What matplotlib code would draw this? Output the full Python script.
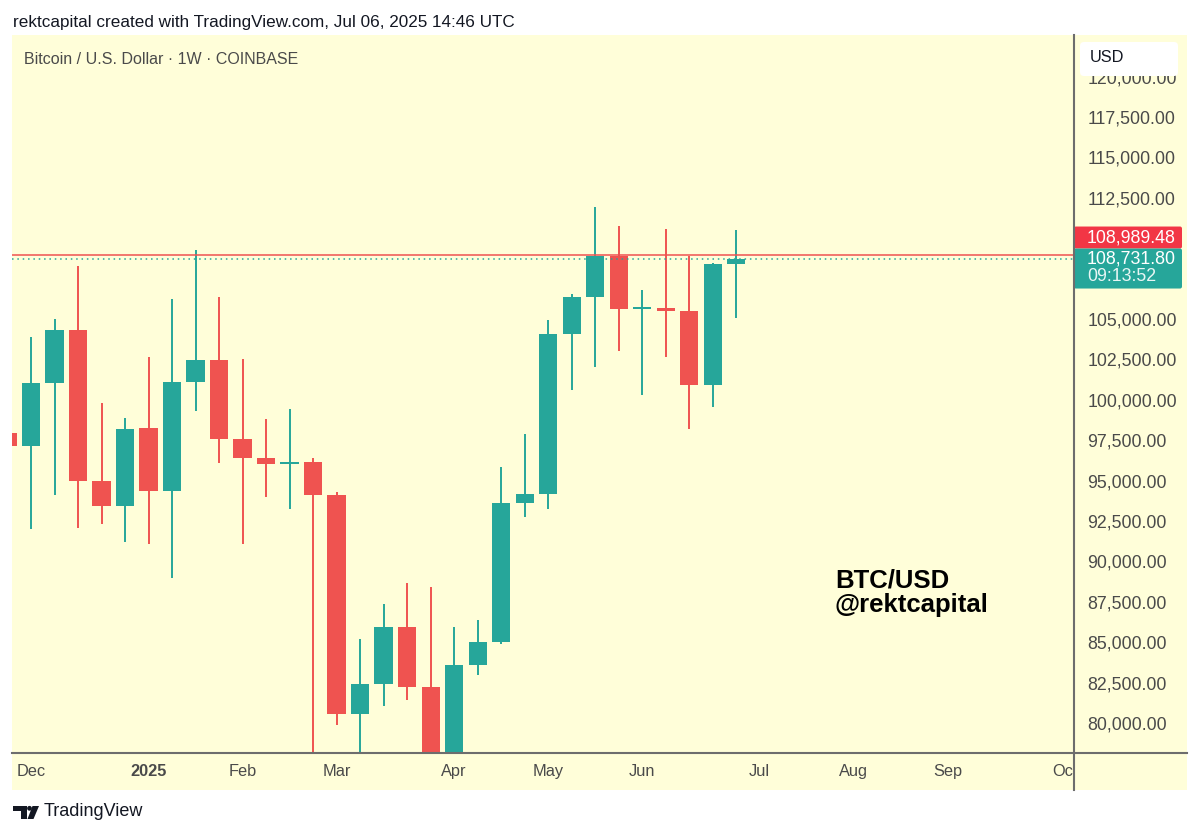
import matplotlib.pyplot as plt
import matplotlib.transforms as mtransforms
import numpy as np
from matplotlib.lines import Line2D
from matplotlib.patches import Circle, FancyBboxPatch, Polygon, Rectangle
from matplotlib.ticker import StrMethodFormatter

plt.rcParams["font.family"] = ["Liberation Sans", "DejaVu Sans"]

# weekly BTC/USD candles (Coinbase), week start dates
weeks = np.array([
    "2024-11-25", "2024-12-02", "2024-12-09", "2024-12-16", "2024-12-23", "2024-12-30",
    "2025-01-06", "2025-01-13", "2025-01-20", "2025-01-27", "2025-02-03", "2025-02-10",
    "2025-02-17", "2025-02-24", "2025-03-03", "2025-03-10", "2025-03-17", "2025-03-24",
    "2025-03-31", "2025-04-07", "2025-04-14", "2025-04-21", "2025-04-28", "2025-05-05",
    "2025-05-12", "2025-05-19", "2025-05-26", "2025-06-02", "2025-06-09", "2025-06-16",
    "2025-06-23", "2025-06-30",
], dtype="datetime64[D]")
opens = np.array([
    97950, 97150, 101060, 104340, 94990, 93430,
    98250, 94380, 101100, 102460, 97560, 96380,
    96010, 96130, 94130, 80570, 82410, 85970,
    82250, 78150, 83590, 85040, 93630, 94170,
    104050, 106360, 108920, 105640, 105660, 105500,
    100920, 108380,
])
highs = np.array([
    98700, 103900, 104980, 108300, 99780, 98860,
    102630, 106220, 109270, 106380, 102530, 98810,
    99410, 96420, 94300, 85200, 87360, 88670,
    88420, 85970, 86370, 95860, 97870, 104920,
    106550, 111950, 110760, 106800, 110570, 108920,
    108450, 110510,
])
lows = np.array([
    90800, 92000, 94100, 92040, 92290, 91180,
    91080, 88970, 99330, 96070, 91080, 93970,
    93220, 78200, 79880, 76600, 81050, 81420,
    74500, 74500, 82970, 84900, 92720, 93260,
    100610, 102040, 103020, 100300, 102670, 98180,
    99570, 105040,
])
closes = np.array([
    97150, 101060, 104340, 94990, 93430, 98210,
    94380, 101100, 102460, 97560, 96380, 96010,
    96100, 94130, 80570, 82410, 85970, 82250,
    78150, 83590, 85040, 93630, 94150, 104050,
    106380, 108920, 105600, 105700, 105520, 100920,
    108380, 108731.80,
])

level_price = 108989.48
last_price = 108731.80
countdown = "09:13:52"

price_ticks = np.arange(80000, 120001, 2500)
month_dates = np.array([
    "2024-12-02", "2025-01-06", "2025-02-03", "2025-03-03", "2025-04-07", "2025-05-05",
    "2025-06-02", "2025-07-07", "2025-08-04", "2025-09-01", "2025-10-06",
], dtype="datetime64[D]")
month_labels = ["Dec", "2025", "Feb", "Mar", "Apr", "May", "Jun", "Jul", "Aug", "Sep", "Oct"]

GREEN = "#26a69a"
RED = "#ef5350"
BG = "#fffed9"
TXT = "#4a4a4a"
SEP = "#6d6d6d"

W, H = 1200, 836
fig = plt.figure(figsize=(W / 100, H / 100), dpi=100, facecolor="white")
# pixel coordinates, origin top-left
pix = mtransforms.Affine2D().scale(1 / W, -1 / H).translate(0, 1) + fig.transFigure

# chart panel
fig.add_artist(Rectangle((12, 35), 1175, 755, transform=pix, fc=BG, ec="none", zorder=-5))

L, R, T, B = 12, 1074, 35, 753
ymin, ymax = 78144, 122574
xmin, xmax = 0.19, 45.38


def py(p):
    return B - (p - ymin) / (ymax - ymin) * (B - T)


ax = fig.add_axes([L / W, 1 - B / H, (R - L) / W, (B - T) / H])
ax.set_facecolor("none")
for s in ax.spines.values():
    s.set_visible(False)

x = (weeks - weeks[0]).astype(int) / 7
up = closes >= opens
colors = np.where(up, GREEN, RED)
ax.vlines(x, lows, highs, colors=colors, lw=1.4, zorder=2)
body_bottom = np.minimum(opens, closes)
body_h = np.maximum(np.abs(closes - opens), 120)
ax.bar(x, body_h, width=0.77, bottom=body_bottom, color=colors, zorder=3)

ax.axhline(level_price, color=RED, lw=1.1, zorder=4)
ax.axhline(last_price, color=GREEN, lw=1.1, ls=(0, (1, 2.5)), zorder=4)

# price label boxes (pixels)
red_top = py(level_price) - 28
red_bottom = red_top + 22
green_bottom = red_bottom + 40

# hide scale labels that sit under the price boxes
shown_ticks = [t for t in price_ticks if not (red_top - 12 < py(t) < green_bottom + 12)]

ax.set_xlim(xmin, xmax)
ax.set_ylim(ymin, ymax)
ax.set_xticks([])
ax.yaxis.tick_right()
ax.set_yticks(shown_ticks)
ax.yaxis.set_major_formatter(StrMethodFormatter("{x:,.2f}"))
ax.tick_params(axis="y", length=0, pad=9.5, labelsize=12.8, labelcolor=TXT)

# time scale
axt = fig.add_axes([L / W, 1 - 790 / H, (R - L) / W, (790 - B) / H])
axt.set_xlim(xmin, xmax)
axt.set_ylim(0, 1)
axt.axis("off")
mx = (month_dates - weeks[0]).astype(int) / 7
for xi, lab in zip(mx, month_labels):
    axt.text(xi, 0.5, lab, ha="center", va="center", size=11.8, color=TXT,
             fontweight="bold" if lab == "2025" else "normal", clip_on=True)

# separators
fig.add_artist(Line2D([R, R], [35, 790], transform=pix, color=SEP, lw=1.5))
fig.add_artist(Line2D([12, 1187], [B, B], transform=pix, color=SEP, lw=1.5))

fig.add_artist(FancyBboxPatch((R, red_top), 108, red_bottom - red_top, transform=pix,
                              fc="#f23645", ec="none", boxstyle="round,pad=0,rounding_size=2"))
fig.text(1087, (red_top + red_bottom) / 2, f"{level_price:,.2f}", transform=pix,
         color="white", size=12.8, va="center", ha="left")
fig.add_artist(FancyBboxPatch((R, red_bottom), 108, green_bottom - red_bottom, transform=pix,
                              fc=GREEN, ec="none", boxstyle="round,pad=0,rounding_size=2"))
fig.text(1087, red_bottom + 10, f"{last_price:,.2f}", transform=pix, color="white",
         size=12.8, va="center", ha="left")
fig.text(1087, red_bottom + 28, countdown, transform=pix, color="#e8f6f4",
         size=12.8, va="center", ha="left")

# currency box (covers the top of the highest scale label)
fig.add_artist(FancyBboxPatch((1080, 42), 98, 34, transform=pix, fc="white", ec="none",
                              boxstyle="round,pad=0,rounding_size=4", zorder=5))
fig.text(1090, 58, "USD", transform=pix, size=11.8, color="#131722", va="center", zorder=6)

# titles
fig.text(13, 22, "rektcapital created with TradingView.com, Jul 06, 2025 14:46 UTC",
         transform=pix, size=12.3, color="#131722", va="center")
fig.text(24, 59, "Bitcoin / U.S. Dollar \u00b7 1W \u00b7 COINBASE", transform=pix,
         size=11.5, color=TXT, va="center")
fig.text(835, 587, "BTC/USD", transform=pix, size=18.5, fontweight="bold",
         color="black", va="baseline")
fig.text(835, 612, "@rektcapital", transform=pix, size=18.5, fontweight="bold",
         color="black", va="baseline")

# footer logo
fig.add_artist(Polygon([(13, 806), (26.7, 806), (26.7, 819), (20.7, 819), (20.7, 810.7), (13, 810.7)],
                       closed=True, transform=pix, fc="#131722", ec="none"))
fig.add_artist(Circle((29.5, 808.3), 2.4, transform=pix, fc="#131722", ec="none"))
fig.add_artist(Polygon([(32.5, 806), (39, 806), (33.5, 819), (27.5, 819)],
                       closed=True, transform=pix, fc="#131722", ec="none"))
fig.text(44, 812, "TradingView", transform=pix, size=13, color="#131722", va="center")

fig.savefig("out.png", dpi=100, facecolor="white")
